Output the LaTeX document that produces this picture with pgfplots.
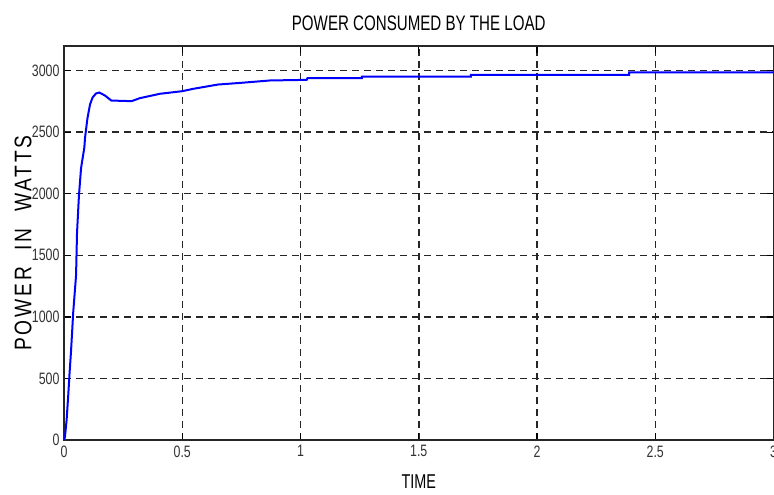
\documentclass[border=0pt]{standalone}
\usepackage{fontspec}
\usepackage{pgfplots}
\pgfplotsset{compat=1.18}
\setmainfont{Liberation Sans}
\newfontfamily\narrowfont[FakeStretch=0.72]{Liberation Sans}
\newfontfamily\tickfont[FakeStretch=0.75]{Liberation Sans}
\newfontfamily\ylabfont[FakeStretch=0.8,LetterSpace=12]{Liberation Sans}

\begin{document}
\begin{tikzpicture}
\begin{axis}[
  scale only axis,
  width=709.5pt, height=394pt,
  xmin=0, xmax=3, ymin=0, ymax=3200,
  xtick={0,0.5,1,1.5,2,2.5,3},
  ytick={0,500,1000,1500,2000,2500,3000},
  xticklabels={0,0.5,1,1.5,2,2.5,3},
  yticklabels={0,500,1000,1500,2000,2500,3000},
  tick align=inside,
  major tick length=7pt,
  tick style={black, line width=1.3pt},
  axis line style={black!85, line width=1.5pt},
  grid=major,
  major grid style={black!85, line width=1.5pt, dash pattern=on 7pt off 5pt},
  ticklabel style={font=\tickfont\fontsize{16.5}{16.5}\selectfont, text=black!80},
  xticklabel style={yshift=-2pt},
  yticklabel style={xshift=-1pt},
  title={\narrowfont\fontsize{21}{21}\selectfont POWER CONSUMED BY THE LOAD},
  title style={yshift=6pt},
  xlabel={\narrowfont\fontsize{20}{20}\selectfont TIME},
  xlabel style={at={(axis description cs:0.5,0)}, anchor=center, yshift=-42pt},
  ylabel={\ylabfont\fontsize{24}{24}\selectfont POWER\ \ IN\ \ WATTS},
  ylabel style={at={(axis description cs:0,0.5)}, anchor=center, yshift=41pt},
]
\addplot[blue, line width=2pt] coordinates {
  (0,0) (0.004,24) (0.011,162) (0.018,365) (0.023,527) (0.030,730)
  (0.039,1038) (0.051,1338) (0.055,1679) (0.063,1979) (0.072,2206)
  (0.086,2376) (0.089,2455) (0.099,2611) (0.110,2725) (0.121,2782)
  (0.135,2814) (0.149,2822) (0.173,2798) (0.200,2757) (0.286,2752)
  (0.320,2776) (0.406,2812) (0.500,2833) (0.546,2852) (0.651,2887)
  (0.750,2901) (0.871,2920) (1.026,2925) (1.030,2940) (1.260,2940)
  (1.260,2951) (1.720,2951) (1.720,2965) (2.390,2965) (2.390,2986)
  (3.000,2986)
};
\end{axis}
\pgfresetboundingbox
\useasboundingbox (-64pt,-55pt) rectangle (710pt,440pt);
\end{tikzpicture}
\end{document}
